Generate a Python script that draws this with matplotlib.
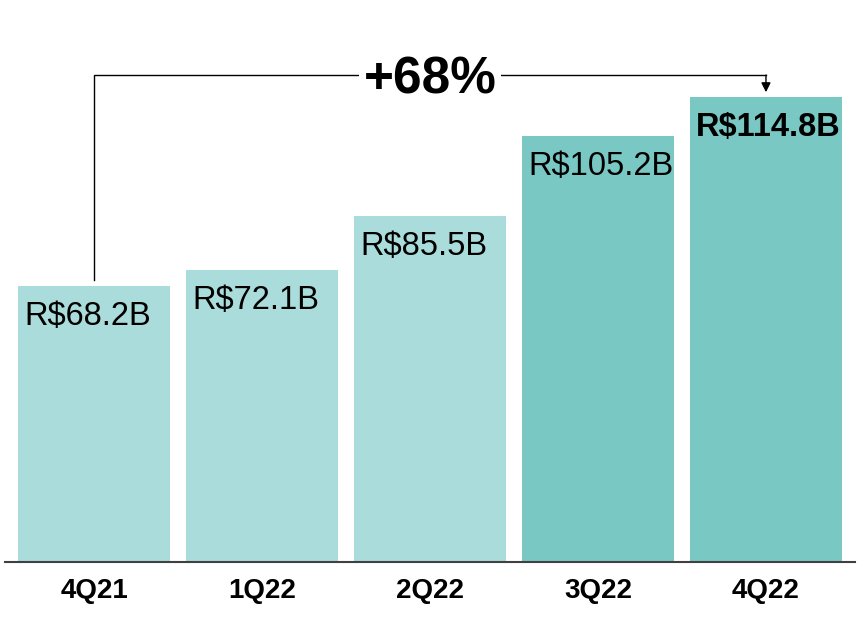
import matplotlib
matplotlib.use("Agg")
import matplotlib.pyplot as plt

categories = ["4Q21", "1Q22", "2Q22", "3Q22", "4Q22"]
values = [68.2, 72.1, 85.5, 105.2, 114.8]
labels = ["R$68.2B", "R$72.1B", "R$85.5B", "R$105.2B", "R$114.8B"]
growth_label = "+68%"

light = "#A9DCDA"
dark = "#79C8C4"
colors = [light, light, light, dark, dark]

plt.rcParams['font.family'] = ['Liberation Sans', 'DejaVu Sans']

W, H, DPI = 866, 621, 100
fig = plt.figure(figsize=(W / DPI, H / DPI), dpi=DPI)
base_px = 562
ax = fig.add_axes([5 / W, 1 - base_px / H, 850 / W, base_px / H])

px_per_unit = 4.05
ax.set_xlim(-0.53, 4.53)
ax.set_ylim(0, base_px / px_per_unit)

width = 0.905
x = list(range(len(categories)))
ax.bar(x, values, width=width, color=colors, zorder=2)

pt = 72 / DPI  # points per pixel
for i, (v, lab) in enumerate(zip(values, labels)):
    bold = i == len(values) - 1
    ax.annotate(lab, xy=(i - width / 2, v), xytext=(6 * pt, -39 * pt),
                textcoords="offset points", ha="left", va="baseline",
                fontsize=23.5, fontweight="bold" if bold else "normal",
                color="black", zorder=3)

for s in ["top", "right", "left"]:
    ax.spines[s].set_visible(False)
ax.spines["bottom"].set_color("#404040")
ax.spines["bottom"].set_linewidth(1.5)
ax.set_yticks([])
ax.set_xticks(x)
ax.set_xticklabels(categories, fontsize=20, fontweight="bold")
ax.tick_params(axis="x", length=0, pad=36 * pt)
for t in ax.get_xticklabels():
    t.set_va("baseline")

# growth bracket
y_line = (base_px - 75) / px_per_unit
ax.plot([0, 0, 4], [values[0] + 1.5, y_line, y_line], color="black", lw=1, zorder=4,
        solid_joinstyle="miter")
ax.annotate("", xy=(4, values[-1] + 1.2), xytext=(4, y_line),
            arrowprops=dict(arrowstyle="-|>", color="black", lw=1,
                            mutation_scale=14, shrinkA=0, shrinkB=0), zorder=4)
ax.text(2, y_line - 4.5 / px_per_unit, growth_label, ha="center", va="center",
        fontsize=37, fontweight="bold", color="black", zorder=5,
        bbox=dict(boxstyle="square,pad=0.08", fc="white", ec="none"))

fig.savefig("out.png", dpi=DPI)
